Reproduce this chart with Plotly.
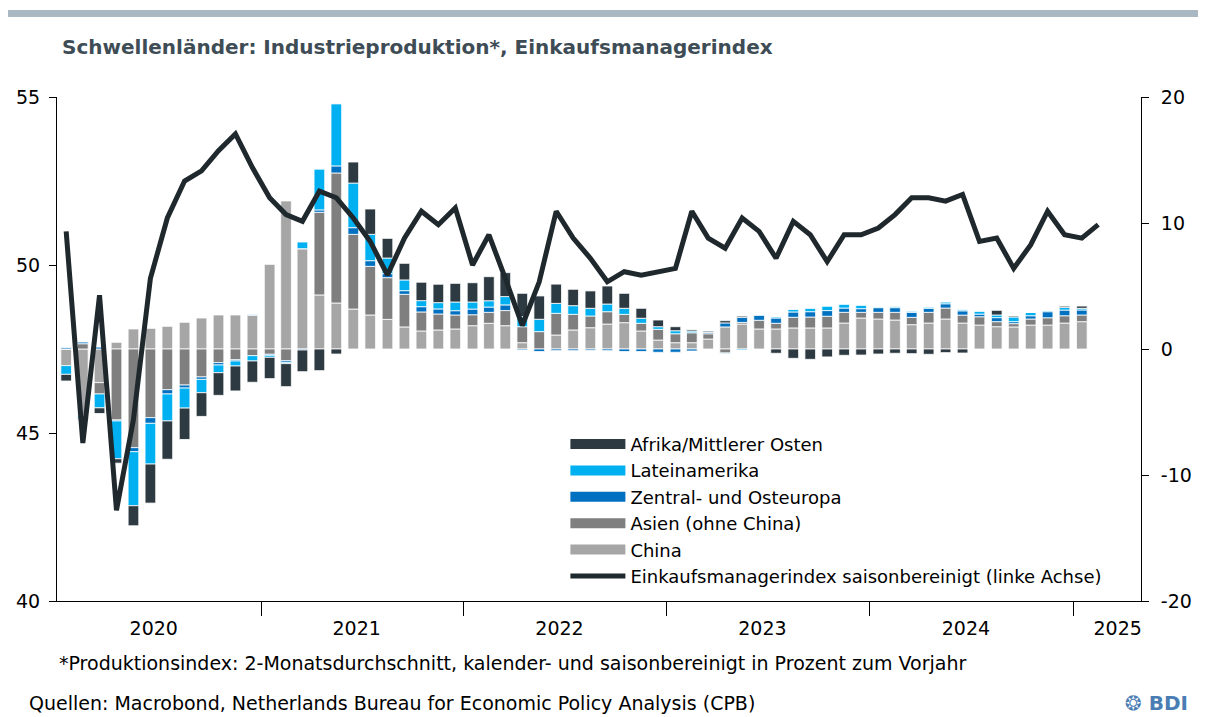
import pandas as pd
import plotly.graph_objects as go

# monthly, Jan 2020 .. Feb 2025 (bars stop at Jan 2025)
MONTHS = pd.date_range("2020-01-01", periods=62, freq="MS")
BAR_MONTHS = MONTHS[:61]

# contributions to EM industrial production, % yoy (right axis)
CHINA = [
    -1.32, -5.30, -2.67, 0.53, 1.59, 1.64, 1.80, 2.12, 2.46, 2.70, 2.70, 2.67,
    6.72, 11.75, 7.96, 4.29, 3.65, 3.17, 2.70, 2.35, 1.75, 1.43, 1.51, 1.59,
    1.85, 2.04, 1.85, 0.50, 0.00, 1.11, 1.51, 1.69, 1.98, 2.09, 1.43, 0.71,
    0.50, 0.50, 0.79, 1.75, 1.98, 1.59, 1.59, 1.67, 1.67, 1.67, 2.06, 2.46,
    2.38, 2.30, 1.93, 2.06, 2.38, 2.06, 1.90, 1.77, 1.75, 1.90, 1.90, 2.06,
    2.17,
]
ASIA = [
    0.00, 0.42, -0.90, -5.63, -7.83, -5.45, -3.23, -2.86, -2.22, -1.08, -0.85, -0.53,
    -0.42, -0.93, 0.00, 6.56, 10.32, 5.93, 3.86, 3.31, 2.59, 1.51, 1.27, 1.11,
    0.87, 0.87, 1.20, 1.27, 1.38, 1.72, 1.24, 0.93, 0.98, 0.66, 0.61, 0.85,
    0.71, 0.79, 0.42, -0.32, 0.13, 0.69, 0.45, 0.85, 0.87, 0.93, 0.85, 0.45,
    0.53, 0.61, 0.58, 0.85, 0.87, 0.63, 0.66, 0.40, 0.26, 0.48, 0.58, 0.58,
    0.53,
]
CEE = [
    0.10, 0.13, 0.15, -0.08, -0.32, -0.45, -0.34, -0.24, -0.19, -0.19, -0.10, 0.05,
    -0.08, -0.13, -0.08, 0.19, 0.56, 0.53, 0.45, 0.32, 0.29, 0.42, 0.40, 0.34,
    0.45, 0.42, 0.45, -0.08, -0.20, -0.13, -0.13, -0.10, -0.13, -0.20, -0.20, -0.26,
    -0.26, -0.16, 0.10, 0.32, 0.40, 0.40, 0.42, 0.42, 0.42, 0.45, 0.34, 0.29,
    0.37, 0.37, 0.40, 0.32, 0.34, 0.34, 0.21, 0.32, 0.16, 0.26, 0.48, 0.45,
    0.40,
]
LATAM = [
    -0.69, -0.20, -1.10, -3.00, -4.29, -3.23, -2.14, -1.59, -1.06, -0.61, -0.40, -0.42,
    -0.16, -0.10, 0.53, 3.23, 4.92, 3.54, 2.09, 1.24, 0.85, 0.48, 0.50, 0.69,
    0.56, 0.50, 0.66, 0.80, 0.98, 0.79, 0.69, 0.61, 0.61, 0.48, 0.40, 0.21,
    0.24, 0.13, 0.00, -0.05, -0.08, 0.05, 0.08, 0.19, 0.26, 0.34, 0.29, 0.26,
    0.05, 0.08, 0.08, 0.08, 0.13, 0.08, 0.24, 0.21, 0.37, 0.26, 0.10, 0.21,
    0.13,
]
AFRICA_ME = [
    -0.53, -0.10, -0.45, -0.35, -1.59, -3.10, -3.04, -2.49, -1.88, -1.80, -1.98, -1.69,
    -1.69, -1.83, -1.72, -1.72, -0.40, 1.67, 2.01, 1.56, 1.32, 1.46, 1.46, 1.48,
    1.53, 1.91, 1.90, 1.85, 1.85, 1.53, 1.30, 1.38, 1.43, 1.19, 0.79, 0.53,
    0.32, 0.10, 0.10, 0.18, 0.10, 0.00, -0.34, -0.74, -0.82, -0.63, -0.50, -0.48,
    -0.40, -0.34, -0.37, -0.42, -0.29, -0.32, 0.00, 0.37, 0.08, 0.00, 0.00, 0.10,
    0.18,
]

# EM manufacturing PMI, seasonally adjusted (left axis)
PMI = [
    51.0, 44.7, 49.1, 42.7, 45.4, 49.6, 51.4, 52.5, 52.8, 53.4, 53.9, 52.9,
    52.0, 51.5, 51.3, 52.2, 52.0, 51.4, 50.7, 49.7, 50.8, 51.6, 51.2, 51.7,
    50.0, 50.9, 49.6, 48.2, 49.5, 51.6, 50.8, 50.2, 49.5, 49.8, 49.7, 49.8,
    49.9, 51.6, 50.8, 50.5, 51.4, 51.0, 50.2, 51.3, 50.9, 50.1, 50.9, 50.9,
    51.1, 51.5, 52.0, 52.0, 51.9, 52.1, 50.7, 50.8, 49.9, 50.6, 51.6, 50.9,
    50.8, 51.2,
]

YEARS = ["2020", "2021", "2022", "2023", "2024", "2025"]
YEAR_LABEL_POS = ["2020-06-22", "2021-06-22", "2022-06-22", "2023-06-22", "2024-06-22", "2025-03-22"]
YEAR_STARTS = ["2021-01-01", "2022-01-01", "2023-01-01", "2024-01-01", "2025-01-01"]

FONT = "DejaVu Sans"

# page body keeps an 8px margin, so the figure is 8px smaller than the window
W, H = 1198, 709

# stacking order from zero outwards, colours as in the original
series = [
    ("China", CHINA, "#a6a6a6"),
    ("Asien (ohne China)", ASIA, "#7f7f7f"),
    ("Zentral- und Osteuropa", CEE, "#0070c0"),
    ("Lateinamerika", LATAM, "#00b0f0"),
    ("Afrika/Mittlerer Osten", AFRICA_ME, "#2d3a42"),
]

fig = go.Figure()

for name, vals, color in series:
    fig.add_bar(
        x=BAR_MONTHS,
        y=vals,
        xperiod="M1",
        xperiodalignment="middle",
        marker=dict(color=color, line=dict(color="white", width=0.8)),
        name=name,
        legendgroup=name,
        showlegend=False,
        yaxis="y",
    )

# legend entries with wide swatches (top to bottom as in the original)
for rank, (name, vals, color) in enumerate(reversed(series)):
    fig.add_scatter(
        x=[None],
        y=[None],
        mode="lines",
        line=dict(color=color, width=13),
        name=name,
        legendgroup=name,
        legendrank=rank + 1,
        hoverinfo="skip",
    )

fig.add_scatter(
    x=MONTHS,
    y=PMI,
    xperiod="M1",
    xperiodalignment="middle",
    mode="lines",
    line=dict(color="#1f282d", width=5),
    name="Einkaufsmanagerindex saisonbereinigt (linke Achse)",
    legendrank=10,
    yaxis="y2",
)

fig.update_layout(
    width=W,
    height=H,
    margin=dict(l=49, r=65, t=89, b=116),
    paper_bgcolor="white",
    plot_bgcolor="white",
    font=dict(family=FONT, size=19, color="black"),
    barmode="relative",
    bargap=0.35,
    title=dict(
        text="<b>Schwellenländer: Industrieproduktion*, Einkaufsmanagerindex</b>",
        font=dict(family=FONT, size=20, color="#3e4c56"),
        x=54 / W,
        xanchor="left",
        y=1 - 39 / H,
        yanchor="middle",
    ),
    xaxis=dict(
        type="date",
        range=["2019-12-31", "2025-05-03"],
        automargin=False,
        showline=True,
        linecolor="black",
        linewidth=1,
        showgrid=False,
        zeroline=False,
        ticks="",
        tickvals=YEAR_LABEL_POS,
        ticktext=YEARS,
        ticklabelstandoff=10,
        minor=dict(
            tickvals=YEAR_STARTS,
            ticks="outside",
            ticklen=14,
            tickcolor="black",
            showgrid=False,
        ),
    ),
    yaxis=dict(
        side="right",
        range=[-20, 20],
        automargin=False,
        tickvals=[-20, -10, 0, 10, 20],
        ticktext=["-20", "-10", "0", "10", "20"],
        ticks="outside",
        ticklen=7,
        tickcolor="black",
        showline=True,
        linecolor="black",
        showgrid=False,
        zeroline=False,
        ticklabelstandoff=8,
    ),
    yaxis2=dict(
        overlaying="y",
        side="left",
        range=[40, 55],
        automargin=False,
        tickvals=[40, 45, 50, 55],
        ticks="outside",
        ticklen=7,
        tickcolor="black",
        showline=True,
        linecolor="black",
        showgrid=False,
        zeroline=False,
        ticklabelstandoff=5,
    ),
    legend=dict(
        x=0.469,
        xanchor="left",
        y=0.18,
        yanchor="middle",
        font=dict(size=18),
        itemwidth=55,
        tracegroupgap=0,
        traceorder="normal",
        bgcolor="rgba(0,0,0,0)",
    ),
    shapes=[
        # grey band across the top
        dict(
            type="rect",
            xref="paper",
            yref="paper",
            x0=-49 / 1084,
            x1=1143 / 1084,
            y0=(601 - 17) / 504,
            y1=(601 - 10) / 504,
            fillcolor="#a9b8c2",
            line=dict(width=0),
            layer="above",
        )
    ],
    annotations=[
        dict(
            text="*Produktionsindex: 2-Monatsdurchschnitt, kalender- und saisonbereinigt in Prozent zum Vorjahr",
            xref="paper",
            yref="paper",
            x=0,
            y=(601 - 663) / 504,
            xanchor="left",
            yanchor="middle",
            showarrow=False,
            font=dict(size=19),
        ),
        dict(
            text="Quellen: Macrobond, Netherlands Bureau for Economic Policy Analysis (CPB)",
            xref="paper",
            yref="paper",
            x=-30 / 1084,
            y=(601 - 703) / 504,
            xanchor="left",
            yanchor="middle",
            showarrow=False,
            font=dict(size=19),
        ),
        dict(
            text="<b>❂ BDI</b>",
            xref="paper",
            yref="paper",
            x=1133 / 1084,
            y=(601 - 703) / 504,
            xanchor="right",
            yanchor="middle",
            showarrow=False,
            font=dict(size=20, color="#4a7db4"),
        ),
    ],
)

fig.write_html("out.html")
